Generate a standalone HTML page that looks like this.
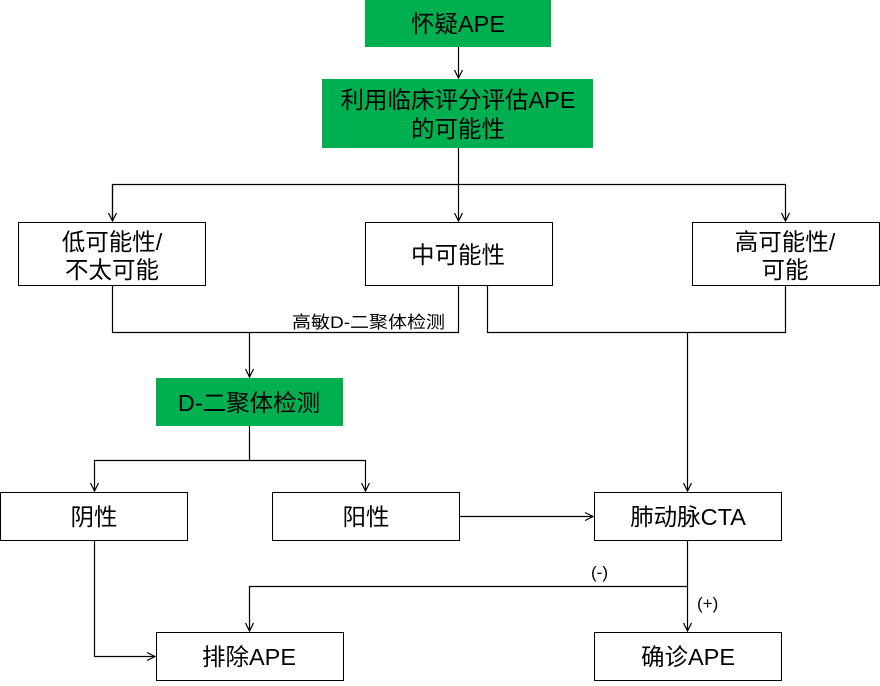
<!DOCTYPE html>
<html><head><meta charset="utf-8"><style>
html,body{margin:0;padding:0;background:#fff;}
svg text{font-family:"Liberation Sans","Noto Sans CJK SC",sans-serif;fill:#000;}
</style></head><body>
<svg width="880" height="681" viewBox="0 0 880 681" xmlns="http://www.w3.org/2000/svg">
<defs><marker id="a" markerWidth="10" markerHeight="10" refX="9" refY="5" orient="auto" markerUnits="userSpaceOnUse"><path d="M1,1 L9,5 L1,9" fill="none" stroke="#000" stroke-width="1.2"/></marker></defs>
<g fill="#00b050">
<rect x="365" y="0" width="186" height="47"/>
<rect x="322" y="79" width="271" height="69"/>
<rect x="156" y="378" width="187" height="48"/>
</g>
<g fill="#fff" stroke="#000" stroke-width="1">
<rect x="18.5" y="222.5" width="187" height="63"/>
<rect x="365.5" y="222.5" width="187" height="63"/>
<rect x="692.5" y="222.5" width="187" height="63"/>
<rect x="0.5" y="492.5" width="187" height="48"/>
<rect x="272.5" y="492.5" width="187" height="48"/>
<rect x="594.5" y="492.5" width="187" height="48"/>
<rect x="156.5" y="632.5" width="187" height="48"/>
<rect x="594.5" y="632.5" width="187" height="48"/>
</g>
<g fill="none" stroke="#000" stroke-width="1.2">
<path d="M458.5,47 V78" marker-end="url(#a)"/>
<path d="M458.5,148 V221" marker-end="url(#a)"/>
<path d="M112.5,221 V184.5 H785.5 V221" marker-end="url(#a)"/>
<path d="M112.5,184.5 V221" marker-end="url(#a)"/>
<path d="M112.5,286 V332.5 H458.5 V286"/>
<path d="M249.5,332.5 V377" marker-end="url(#a)"/>
<path d="M487.5,286 V332.5 H785.5 V286"/>
<path d="M687.5,332.5 V491" marker-end="url(#a)"/>
<path d="M249.5,426 V460.5 H94.5 V491" marker-end="url(#a)"/>
<path d="M249.5,460.5 H365.5 V491" marker-end="url(#a)"/>
<path d="M459,516.5 H593" marker-end="url(#a)"/>
<path d="M687.5,540 V631" marker-end="url(#a)"/>
<path d="M687.5,586.5 H249.5 V631" marker-end="url(#a)"/>
<path d="M94.5,540 V656.5 H155" marker-end="url(#a)"/>
</g>
<g font-size="23.5" text-anchor="middle">
<text x="458" y="32">怀疑APE</text>
<text x="458" y="108">利用临床评分评估APE</text>
<text x="458" y="137">的可能性</text>
<text x="112" y="250">低可能性/</text>
<text x="112" y="278">不太可能</text>
<text x="458" y="263">中可能性</text>
<text x="785" y="250">高可能性/</text>
<text x="785" y="278">可能</text>
<text x="249" y="411">D-二聚体检测</text>
<text x="94" y="525">阴性</text>
<text x="366" y="525">阳性</text>
<text x="688" y="525">肺动脉CTA</text>
<text x="249" y="665">排除APE</text>
<text x="688" y="665">确诊APE</text>
</g>
<g font-size="17">
<text x="292" y="328" textLength="153" lengthAdjust="spacingAndGlyphs">高敏D-二聚体检测</text>
<text x="591" y="578">(-)</text>
<text x="697" y="609">(+)</text>
</g>
</svg>
</body></html>
